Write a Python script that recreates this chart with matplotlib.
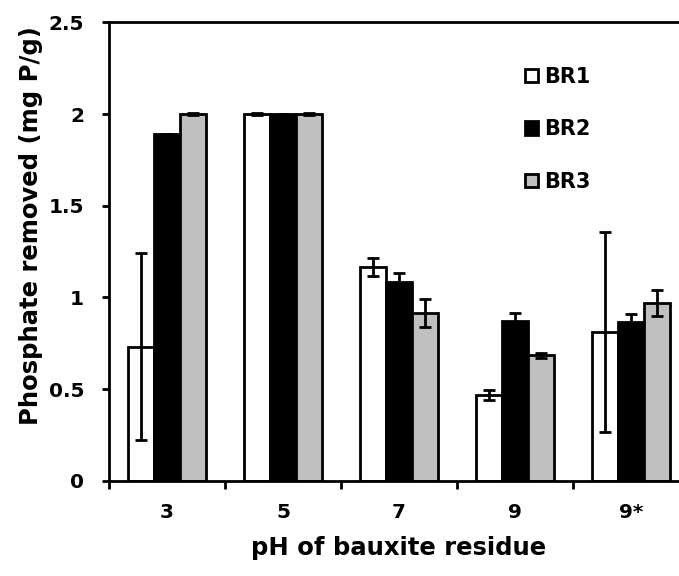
import numpy as np
import matplotlib.pyplot as plt
from matplotlib.ticker import FixedLocator, FuncFormatter

plt.rcParams['font.family'] = ['DejaVu Sans']
plt.rcParams['font.weight'] = 'bold'

ph_labels = ['3', '5', '7', '9', '9*']
series = ['BR1', 'BR2', 'BR3']
br1 = [0.73, 2.00, 1.165, 0.468, 0.81]
br2 = [1.89, 2.00, 1.085, 0.873, 0.866]
br3 = [2.00, 2.00, 0.913, 0.684, 0.968]
br1_err = [0.51, 0.005, 0.05, 0.027, 0.545]
br2_err = [0.0, 0.0, 0.047, 0.04, 0.042]
br3_err = [0.005, 0.005, 0.077, 0.013, 0.07]

fills = ['white', 'black', '#c0c0c0']

fig = plt.figure(figsize=(6.79, 5.76), dpi=100)
# right edge of the plot box falls a little past the figure edge
ax = fig.add_axes([109 / 679, 95.3 / 576, 580 / 679, 458.3 / 576])

x = np.arange(len(ph_labels))
w = 0.222
for k, (vals, errs) in enumerate(zip([br1, br2, br3], [br1_err, br2_err, br3_err])):
    ax.bar(x + (k - 1) * w, vals, w, color=fills[k], edgecolor='black', linewidth=2,
           yerr=errs, error_kw=dict(ecolor='black', elinewidth=2, capsize=4.5, capthick=2),
           label=series[k], zorder=2)

ax.set_xlim(-0.5, 4.5)
ax.set_ylim(0, 2.5)
ax.set_yticks([0, 0.5, 1, 1.5, 2, 2.5])
ax.yaxis.set_major_formatter(FuncFormatter(lambda v, p: '%g' % v))

# category boundaries get the tick marks, labels sit between them
ax.xaxis.set_major_locator(FixedLocator(np.arange(-0.5, 5, 1)))
ax.xaxis.set_minor_locator(FixedLocator(x))
ax.set_xticklabels([], minor=False)
ax.set_xticklabels(ph_labels, minor=True)
ax.tick_params(axis='x', which='major', direction='out', length=6, width=2)
ax.tick_params(axis='x', which='minor', length=0, pad=16, labelsize=14.5)
ax.tick_params(axis='y', direction='out', length=5, width=2, pad=13, labelsize=14.5)

for s in ax.spines.values():
    s.set_linewidth(2)

ax.set_xlabel('pH of bauxite residue', fontsize=17.5, fontweight='bold', labelpad=10)
ax.set_ylabel('Phosphate removed (mg P/g)', fontsize=17.5, fontweight='bold')
ax.yaxis.set_label_coords(-0.114, 0.556)

ax.legend(loc='upper left', bbox_to_anchor=(525 / 679, 1 - 67 / 576),
          bbox_transform=fig.transFigure, frameon=False, fontsize=15,
          handlelength=0.62, handleheight=0.62, handletextpad=0.3,
          labelspacing=1.55, borderpad=0, borderaxespad=0)

fig.savefig('out.png', dpi=100)
